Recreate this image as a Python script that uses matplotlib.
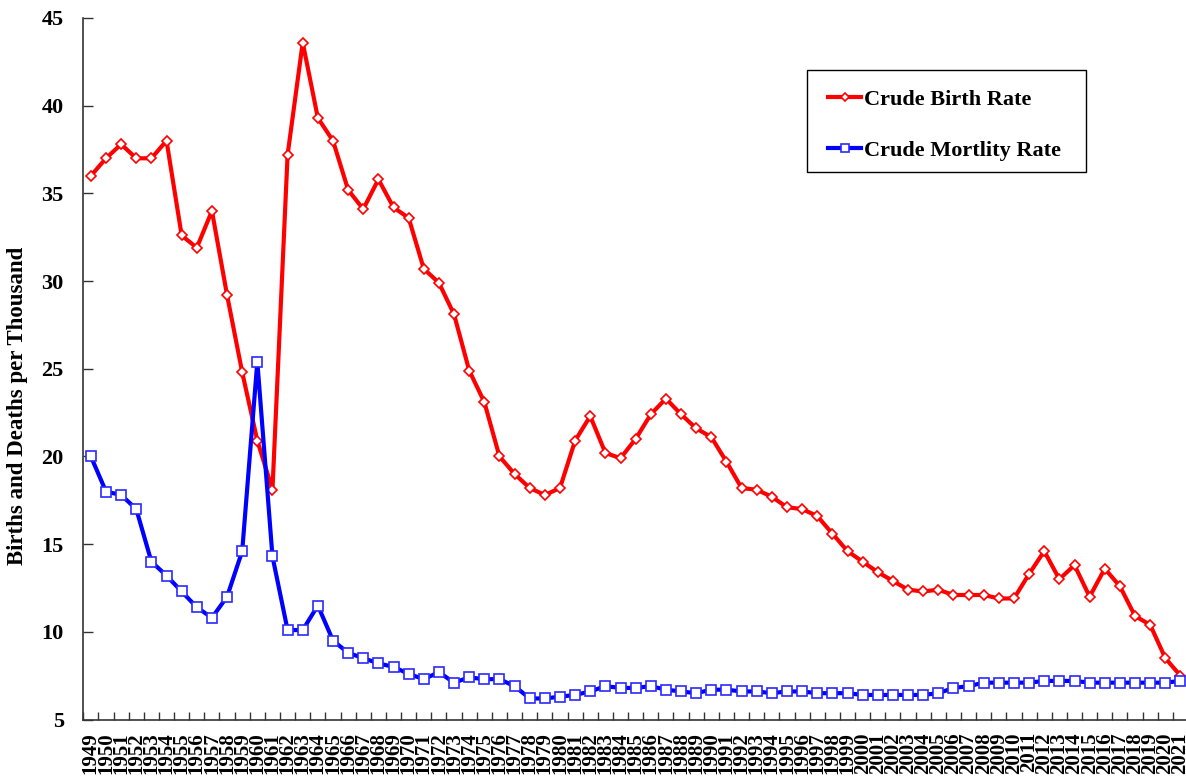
import matplotlib
matplotlib.use("Agg")
import matplotlib.pyplot as plt
from matplotlib.patches import Rectangle

years = list(range(1949, 2022))

birth_rate = [36.0, 37.0, 37.8, 37.0, 37.0, 38.0, 32.6, 31.9, 34.0, 29.2,
              24.8, 20.9, 18.1, 37.2, 43.6, 39.3, 38.0, 35.2, 34.1, 35.8,
              34.2, 33.6, 30.7, 29.9, 28.1, 24.9, 23.1, 20.0, 19.0, 18.2,
              17.8, 18.2, 20.9, 22.3, 20.2, 19.9, 21.0, 22.4, 23.3, 22.4,
              21.6, 21.1, 19.7, 18.2, 18.1, 17.7, 17.1, 17.0, 16.6, 15.6,
              14.6, 14.0, 13.4, 12.9, 12.4, 12.3, 12.4, 12.1, 12.1, 12.1,
              11.9, 11.9, 13.3, 14.6, 13.0, 13.8, 12.0, 13.6, 12.6, 10.9,
              10.4, 8.5, 7.5]

death_rate = [20.0, 18.0, 17.8, 17.0, 14.0, 13.2, 12.3, 11.4, 10.8, 12.0,
              14.6, 25.4, 14.3, 10.1, 10.1, 11.5, 9.5, 8.8, 8.5, 8.2,
              8.0, 7.6, 7.3, 7.7, 7.1, 7.4, 7.3, 7.3, 6.9, 6.2,
              6.2, 6.3, 6.4, 6.6, 6.9, 6.8, 6.8, 6.9, 6.7, 6.6,
              6.5, 6.7, 6.7, 6.6, 6.6, 6.5, 6.6, 6.6, 6.5, 6.5,
              6.5, 6.4, 6.4, 6.4, 6.4, 6.4, 6.5, 6.8, 6.9, 7.1,
              7.1, 7.1, 7.1, 7.2, 7.2, 7.2, 7.1, 7.1, 7.1, 7.1,
              7.1, 7.1, 7.2]

y_ticks = [5, 10, 15, 20, 25, 30, 35, 40, 45]

plt.rcParams['font.family'] = ['Liberation Serif', 'DejaVu Serif']
plt.rcParams['font.weight'] = 'bold'

W, H = 1186, 780
fig = plt.figure(figsize=(W / 100, H / 100), dpi=100)
left_px, right_px, top_px, bot_px = 83.3, 1188.0, 18.0, 719.5
ax = fig.add_axes([left_px / W, 1 - bot_px / H, (right_px - left_px) / W, (bot_px - top_px) / H])

ax.plot(years, birth_rate, color='#ff0000', lw=3.0, marker='D', ms=5.5,
        mfc='white', mec='#ff0000', mew=1.2, label='Crude Birth Rate', clip_on=False, zorder=3)
ax.plot(years, death_rate, color='#0000ff', lw=3.0, marker='s', ms=6.5,
        mfc='white', mec='#2a2aff', mew=1.2, label='Crude Mortlity Rate', clip_on=False, zorder=3)

ax.set_xlim(1948.5, 2021.5)
ax.set_ylim(5, 45)
ax.set_yticks(y_ticks)
ax.set_yticklabels([str(v) for v in y_ticks], fontsize=16, fontweight='bold')

ax.set_xticks(years)
ax.set_xticklabels([str(y) for y in years], rotation=90, fontsize=15, fontweight='bold',
                   va='top', ha='center')
ax.set_xticks([y + 0.5 for y in [years[0] - 1] + years], minor=True)
ax.tick_params(axis='x', which='major', length=0, pad=9)
ax.tick_params(axis='x', which='minor', direction='in', length=6, width=1, color='#333333')
ax.tick_params(axis='y', direction='in', length=7, width=1, pad=14, color='#333333')

for s in ['top', 'right']:
    ax.spines[s].set_visible(False)
for s in ['left', 'bottom']:
    ax.spines[s].set_color('#333333')
    ax.spines[s].set_linewidth(1.2)

ax.set_ylabel('Births and Deaths per Thousand', fontsize=16.5, fontweight='bold')
ax.yaxis.set_label_coords(-0.050, 0.447)

# legend frame drawn as a figure-level rectangle
fig.patches.append(Rectangle((807 / W, 1 - 172 / H), (1086 - 807) / W, (172 - 70) / H,
                             transform=fig.transFigure, fill=False, edgecolor='black',
                             linewidth=1.0, zorder=5))
leg = ax.legend(loc='center left', bbox_to_anchor=(828 / W, 1 - 125 / H),
                bbox_transform=fig.transFigure, borderaxespad=0, borderpad=0,
                prop={'family': 'Liberation Serif', 'weight': 'bold', 'size': 16},
                frameon=False, handlelength=1.5, handletextpad=0.1,
                labelspacing=1.37, markerscale=0.8)

fig.savefig('out.png', dpi=100)
